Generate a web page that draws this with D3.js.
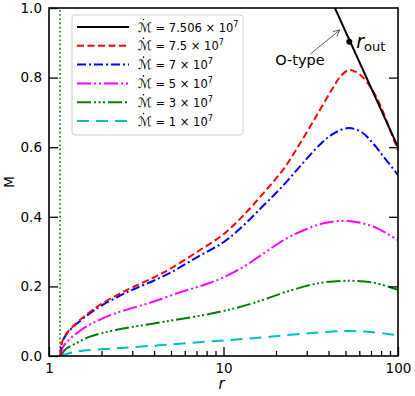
<html>
<head>
<script src="https://d3js.org/d3.v7.min.js"></script>
<style>
  body { margin: 0; background: #fff; }
  text { font-family: "DejaVu Sans", sans-serif; }
</style>
</head>
<body>
<svg id="chart" width=415 height=396></svg>
<script>
// values: [r, M]
var rIn = 1.156;
var mdot7506 = [[43.5, 1.0], [100, 0.6]];
var mdot75 = [[1.165,0.0],[1.18,0.035],[1.25,0.062],[1.35,0.082],[1.5,0.103],[1.75,0.13],[2,0.15],[2.5,0.177],[3,0.197],[4,0.226],[5,0.252],[7,0.298],[10,0.35],[13,0.404],[17,0.469],[22,0.536],[28,0.618],[35,0.7],[42,0.767],[47,0.805],[52.6,0.822],[58,0.815],[65,0.793],[75,0.745],[87,0.669],[100,0.59]];
var mdot70 = [[1.165,0.0],[1.18,0.035],[1.25,0.06],[1.35,0.08],[1.5,0.1],[1.75,0.126],[2,0.145],[2.5,0.171],[3,0.19],[4,0.217],[5,0.24],[7,0.283],[10,0.327],[13,0.375],[17,0.433],[22,0.49],[28,0.55],[35,0.603],[42,0.637],[52,0.655],[62,0.643],[72,0.611],[85,0.565],[100,0.52]];
var mdot50 = [[1.165,0.0],[1.2,0.025],[1.3,0.046],[1.5,0.072],[1.77,0.094],[2.41,0.123],[3.73,0.152],[5.8,0.185],[8,0.207],[10,0.226],[13,0.256],[17,0.295],[23,0.338],[30,0.365],[38,0.382],[52,0.388],[72,0.372],[100,0.333]];
var mdot30 = [[1.165,0.0],[1.25,0.02],[1.42,0.036],[1.7,0.055],[2.41,0.075],[4.66,0.099],[9.54,0.127],[14.8,0.152],[23.1,0.185],[35.8,0.21],[52,0.216],[72,0.211],[100,0.19]];
var mdot10 = [[1.165,0.0],[1.42,0.012],[2.41,0.022],[4.66,0.032],[9.54,0.044],[14.8,0.051],[23.1,0.06],[35.8,0.068],[52,0.072],[72,0.068],[100,0.06]];
var rOut = [52.6, 0.903];
var labels = ["7.506", "7.5", "7", "5", "3", "1"];
var yTicks = [0, 0.2, 0.4, 0.6, 0.8, 1.0];
var xTicks = [1, 10, 100];
var xMinor = [2,3,4,5,6,7,8,9,20,30,40,50,60,70,80,90];

var series = [
  {lab: labels[0], d: mdot7506, c: "#000000", dash: null},
  {lab: labels[1], d: mdot75, c: "#ff0000", dash: "7,3.5"},
  {lab: labels[2], d: mdot70, c: "#0000ff", dash: "9,3,2,3"},
  {lab: labels[3], d: mdot50, c: "#ff00ff", dash: "14,3,2,3,2,3"},
  {lab: labels[4], d: mdot30, c: "#008000", dash: "14,3,2,2.5,2,2.5,2,3"},
  {lab: labels[5], d: mdot10, c: "#00bfbf", dash: "12,7"}
];

var svg = d3.select("#chart");
var mleft = 49, mtop = 8, w = 349, h = 348;
var g = svg.append("g").attr("transform", "translate(" + mleft + "," + mtop + ")");

var x = d3.scaleLog().domain([1, 100]).range([0, w]);
var y = d3.scaleLinear().domain([0, 1]).range([h, 0]);

g.append("clipPath").attr("id", "clip")
  .append("rect").attr("width", w).attr("height", h);

// inner edge dotted line
g.append("line")
  .attr("x1", x(rIn)).attr("x2", x(rIn))
  .attr("y1", y(0)).attr("y2", y(1))
  .attr("stroke", "#008000").attr("stroke-width", 1.6)
  .attr("stroke-dasharray", "1.6,2.6");

var line = d3.line()
  .x(function(d) { return x(d[0]); })
  .y(function(d) { return y(d[1]); })
  .curve(d3.curveCatmullRom.alpha(0.5));

var curves = g.append("g").attr("clip-path", "url(#clip)");
series.slice().reverse().forEach(function(s) {
  curves.append("path")
    .attr("d", line(s.d))
    .attr("fill", "none")
    .attr("stroke", s.c)
    .attr("stroke-width", 2)
    .attr("stroke-dasharray", s.dash);
});

// r_out point and labels
g.append("circle").attr("cx", x(rOut[0])).attr("cy", y(rOut[1])).attr("r", 3).attr("fill", "black");
var ro = g.append("text").attr("x", x(rOut[0]) + 7).attr("y", y(rOut[1]) + 6)
  .style("font-size", "19px");
ro.append("tspan").style("font-style", "italic").text("r");
ro.append("tspan").attr("dy", 3).style("font-size", "13px").text("out");

// O-type annotation
var ax0 = x(31.5), ay0 = y(0.868), ax1 = x(46.4), ay1 = y(0.937);
g.append("line").attr("x1", ax0).attr("y1", ay0).attr("x2", ax1).attr("y2", ay1)
  .attr("stroke", "#333").attr("stroke-width", 0.8);
var ang = Math.atan2(ay1 - ay0, ax1 - ax0);
var hx = function(a) { return (ax1 - 7 * Math.cos(ang + a)) + "," + (ay1 - 7 * Math.sin(ang + a)); };
g.append("polyline")
  .attr("points", hx(0.45) + " " + ax1 + "," + ay1 + " " + hx(-0.45))
  .attr("fill", "none").attr("stroke", "#333").attr("stroke-width", 0.8);
g.append("text").attr("x", x(27.4)).attr("y", y(0.835))
  .attr("text-anchor", "middle").style("font-size", "14.5px").text("O-type");

// axes
var tf = d3.format(".1f");
g.append("g").attr("class", "ax")
  .call(d3.axisLeft(y).tickValues(yTicks).tickFormat(tf).tickSizeInner(-9).tickSizeOuter(0).tickPadding(7));
g.append("g").attr("class", "ax").attr("transform", "translate(" + w + ",0)")
  .call(d3.axisRight(y).tickValues(yTicks.slice(1, 5)).tickFormat("").tickSizeInner(-9).tickSizeOuter(0));
g.append("g").attr("class", "ax").attr("transform", "translate(0," + h + ")")
  .call(d3.axisBottom(x).tickValues(xTicks).tickFormat(d3.format("d")).tickSizeInner(-9).tickSizeOuter(0).tickPadding(7.5));
g.append("g").attr("class", "ax").attr("transform", "translate(0," + h + ")")
  .call(d3.axisBottom(x).tickValues(xMinor).tickFormat("").tickSizeInner(-5).tickSizeOuter(0));
g.selectAll(".ax .domain").remove();
g.selectAll(".ax line").attr("stroke", "black").attr("stroke-width", 1.3);
g.selectAll(".ax text").style("font-size", "13.5px").style("font-family", "DejaVu Sans").attr("fill", "black");

g.append("rect").attr("width", w).attr("height", h)
  .attr("fill", "none").attr("stroke", "black").attr("stroke-width", 1.6);

svg.append("text").attr("transform", "translate(13.5," + (mtop + h / 2) + ") rotate(-90)")
  .attr("text-anchor", "middle").style("font-size", "13.5px").text("M");
svg.append("text").attr("x", mleft + w / 2 - 2).attr("y", 389)
  .attr("text-anchor", "middle").style("font-size", "15px").style("font-style", "italic").text("r");

// legend
var lg = svg.append("g").attr("transform", "translate(72,15)");
lg.append("rect").attr("width", 171).attr("height", 120).attr("rx", 3)
  .attr("fill", "white").attr("fill-opacity", 0.8).attr("stroke", "#d0d0d0").attr("stroke-width", 1);
series.forEach(function(s, i) {
  var yy = 12 + i * 18.8;
  lg.append("line").attr("x1", 5).attr("x2", 57).attr("y1", yy).attr("y2", yy)
    .attr("stroke", s.c).attr("stroke-width", 2).attr("stroke-dasharray", s.dash);
  var t = lg.append("text").attr("x", 66).attr("y", yy + 4.5).style("font-size", "11.5px");
  t.append("tspan").style("font-style", "italic").style("font-size", "13px").text("\u2133");
  t.append("tspan").text(" = " + s.lab + " \u00d7 10");
  t.append("tspan").attr("dy", -5).style("font-size", "8px").text("7");
  lg.append("circle").attr("cx", 71.5).attr("cy", yy - 7.5).attr("r", 0.8).attr("fill", "black");
});
</script>
</body>
</html>
